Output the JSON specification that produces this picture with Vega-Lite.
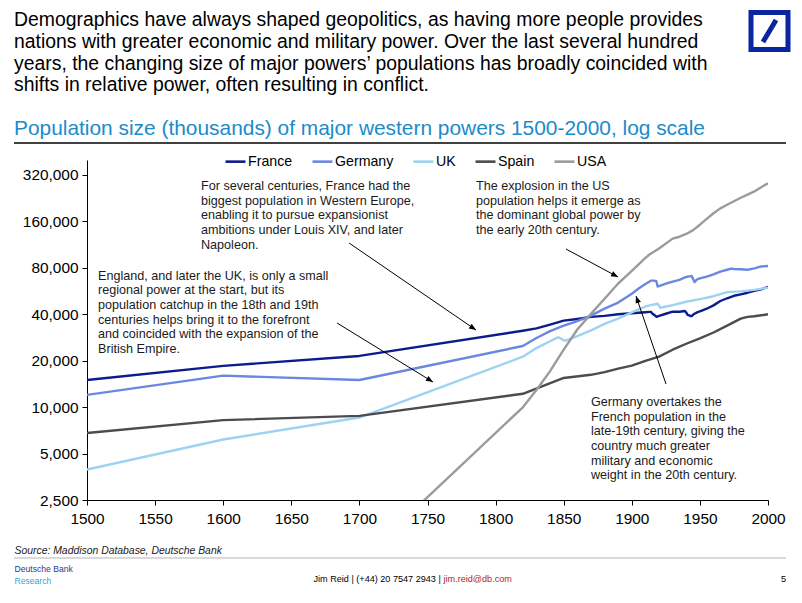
{
  "$schema": "https://vega.github.io/schema/vega-lite/v6.json",
  "width": 681,
  "height": 340,
  "autosize": {"type": "none"},
  "padding": {"left": 87, "top": 160, "right": 34, "bottom": 103},
  "background": "white",
  "title": {
    "text": [
      "Demographics have always shaped geopolitics, as having more people provides",
      "nations with greater economic and military power. Over the last several hundred",
      "years, the changing size of major powers’ populations has broadly coincided with",
      "shifts in relative power, often resulting in conflict."
    ],
    "subtitle": "Population size (thousands) of major western powers 1500-2000, log scale",
    "anchor": "start",
    "frame": "group",
    "dx": -73,
    "offset": -137.5,
    "font": "Liberation Sans",
    "fontSize": 19.4,
    "fontWeight": "normal",
    "color": "#000000",
    "lineHeight": 21.8,
    "subtitleFont": "Liberation Sans",
    "subtitleFontSize": 20.9,
    "subtitleColor": "#1a8bcb",
    "subtitlePadding": 22.4
  },
  "datasets": {
    "population": [
      {"country": "France", "year": 1500, "pop": 15000},
      {"country": "France", "year": 1600, "pop": 18500},
      {"country": "France", "year": 1700, "pop": 21471},
      {"country": "France", "year": 1820, "pop": 31250},
      {"country": "France", "year": 1830, "pop": 32375},
      {"country": "France", "year": 1840, "pop": 34230},
      {"country": "France", "year": 1850, "pop": 36350},
      {"country": "France", "year": 1860, "pop": 37300},
      {"country": "France", "year": 1870, "pop": 38440},
      {"country": "France", "year": 1880, "pop": 39045},
      {"country": "France", "year": 1890, "pop": 40014},
      {"country": "France", "year": 1900, "pop": 40598},
      {"country": "France", "year": 1910, "pop": 41224},
      {"country": "France", "year": 1913, "pop": 41463},
      {"country": "France", "year": 1914, "pop": 41476},
      {"country": "France", "year": 1915, "pop": 40481},
      {"country": "France", "year": 1916, "pop": 39884},
      {"country": "France", "year": 1917, "pop": 39288},
      {"country": "France", "year": 1918, "pop": 38542},
      {"country": "France", "year": 1919, "pop": 38700},
      {"country": "France", "year": 1920, "pop": 39000},
      {"country": "France", "year": 1925, "pop": 40310},
      {"country": "France", "year": 1930, "pop": 41610},
      {"country": "France", "year": 1935, "pop": 41550},
      {"country": "France", "year": 1939, "pop": 41960},
      {"country": "France", "year": 1940, "pop": 41000},
      {"country": "France", "year": 1941, "pop": 39600},
      {"country": "France", "year": 1942, "pop": 39400},
      {"country": "France", "year": 1943, "pop": 39000},
      {"country": "France", "year": 1944, "pop": 38900},
      {"country": "France", "year": 1945, "pop": 39700},
      {"country": "France", "year": 1946, "pop": 40290},
      {"country": "France", "year": 1948, "pop": 41110},
      {"country": "France", "year": 1950, "pop": 41829},
      {"country": "France", "year": 1955, "pop": 43428},
      {"country": "France", "year": 1960, "pop": 45670},
      {"country": "France", "year": 1965, "pop": 48758},
      {"country": "France", "year": 1970, "pop": 50787},
      {"country": "France", "year": 1975, "pop": 52699},
      {"country": "France", "year": 1980, "pop": 53880},
      {"country": "France", "year": 1985, "pop": 55170},
      {"country": "France", "year": 1990, "pop": 56735},
      {"country": "France", "year": 1995, "pop": 58020},
      {"country": "France", "year": 2000, "pop": 60300},
      {"country": "Germany", "year": 1500, "pop": 12000},
      {"country": "Germany", "year": 1600, "pop": 16000},
      {"country": "Germany", "year": 1700, "pop": 15000},
      {"country": "Germany", "year": 1820, "pop": 24905},
      {"country": "Germany", "year": 1830, "pop": 28045},
      {"country": "Germany", "year": 1840, "pop": 31126},
      {"country": "Germany", "year": 1850, "pop": 33746},
      {"country": "Germany", "year": 1860, "pop": 36049},
      {"country": "Germany", "year": 1870, "pop": 39231},
      {"country": "Germany", "year": 1880, "pop": 43500},
      {"country": "Germany", "year": 1890, "pop": 47607},
      {"country": "Germany", "year": 1900, "pop": 54388},
      {"country": "Germany", "year": 1905, "pop": 58700},
      {"country": "Germany", "year": 1910, "pop": 62884},
      {"country": "Germany", "year": 1913, "pop": 65058},
      {"country": "Germany", "year": 1914, "pop": 66096},
      {"country": "Germany", "year": 1916, "pop": 66076},
      {"country": "Germany", "year": 1918, "pop": 65500},
      {"country": "Germany", "year": 1919, "pop": 60547},
      {"country": "Germany", "year": 1920, "pop": 60894},
      {"country": "Germany", "year": 1925, "pop": 63166},
      {"country": "Germany", "year": 1930, "pop": 65084},
      {"country": "Germany", "year": 1935, "pop": 66871},
      {"country": "Germany", "year": 1939, "pop": 69286},
      {"country": "Germany", "year": 1941, "pop": 70244},
      {"country": "Germany", "year": 1943, "pop": 70411},
      {"country": "Germany", "year": 1944, "pop": 70800},
      {"country": "Germany", "year": 1946, "pop": 64678},
      {"country": "Germany", "year": 1947, "pop": 66094},
      {"country": "Germany", "year": 1948, "pop": 67295},
      {"country": "Germany", "year": 1950, "pop": 68375},
      {"country": "Germany", "year": 1955, "pop": 70196},
      {"country": "Germany", "year": 1960, "pop": 72481},
      {"country": "Germany", "year": 1965, "pop": 75639},
      {"country": "Germany", "year": 1970, "pop": 77709},
      {"country": "Germany", "year": 1973, "pop": 78950},
      {"country": "Germany", "year": 1975, "pop": 78667},
      {"country": "Germany", "year": 1980, "pop": 78298},
      {"country": "Germany", "year": 1985, "pop": 77684},
      {"country": "Germany", "year": 1990, "pop": 79380},
      {"country": "Germany", "year": 1995, "pop": 81661},
      {"country": "Germany", "year": 2000, "pop": 82188},
      {"country": "UK", "year": 1500, "pop": 3942},
      {"country": "UK", "year": 1600, "pop": 6170},
      {"country": "UK", "year": 1700, "pop": 8565},
      {"country": "UK", "year": 1820, "pop": 21239},
      {"country": "UK", "year": 1830, "pop": 24135},
      {"country": "UK", "year": 1840, "pop": 26745},
      {"country": "UK", "year": 1846, "pop": 28400},
      {"country": "UK", "year": 1851, "pop": 26900},
      {"country": "UK", "year": 1860, "pop": 28888},
      {"country": "UK", "year": 1870, "pop": 31400},
      {"country": "UK", "year": 1880, "pop": 34623},
      {"country": "UK", "year": 1890, "pop": 37485},
      {"country": "UK", "year": 1900, "pop": 41155},
      {"country": "UK", "year": 1910, "pop": 44916},
      {"country": "UK", "year": 1913, "pop": 45649},
      {"country": "UK", "year": 1919, "pop": 46821},
      {"country": "UK", "year": 1921, "pop": 44072},
      {"country": "UK", "year": 1930, "pop": 45866},
      {"country": "UK", "year": 1940, "pop": 48226},
      {"country": "UK", "year": 1950, "pop": 50127},
      {"country": "UK", "year": 1960, "pop": 52372},
      {"country": "UK", "year": 1970, "pop": 55632},
      {"country": "UK", "year": 1980, "pop": 56314},
      {"country": "UK", "year": 1990, "pop": 57561},
      {"country": "UK", "year": 2000, "pop": 59522},
      {"country": "Spain", "year": 1500, "pop": 6800},
      {"country": "Spain", "year": 1600, "pop": 8240},
      {"country": "Spain", "year": 1700, "pop": 8770},
      {"country": "Spain", "year": 1820, "pop": 12203},
      {"country": "Spain", "year": 1850, "pop": 15455},
      {"country": "Spain", "year": 1870, "pop": 16201},
      {"country": "Spain", "year": 1880, "pop": 16859},
      {"country": "Spain", "year": 1890, "pop": 17757},
      {"country": "Spain", "year": 1900, "pop": 18566},
      {"country": "Spain", "year": 1910, "pop": 19927},
      {"country": "Spain", "year": 1920, "pop": 21232},
      {"country": "Spain", "year": 1930, "pop": 23564},
      {"country": "Spain", "year": 1940, "pop": 25757},
      {"country": "Spain", "year": 1950, "pop": 27868},
      {"country": "Spain", "year": 1960, "pop": 30455},
      {"country": "Spain", "year": 1970, "pop": 33779},
      {"country": "Spain", "year": 1975, "pop": 35596},
      {"country": "Spain", "year": 1980, "pop": 37488},
      {"country": "Spain", "year": 1985, "pop": 38474},
      {"country": "Spain", "year": 1990, "pop": 38851},
      {"country": "Spain", "year": 1995, "pop": 39388},
      {"country": "Spain", "year": 2000, "pop": 40016},
      {"country": "USA", "year": 1500, "pop": 2000},
      {"country": "USA", "year": 1600, "pop": 1500},
      {"country": "USA", "year": 1700, "pop": 1000},
      {"country": "USA", "year": 1820, "pop": 9981},
      {"country": "USA", "year": 1830, "pop": 12901},
      {"country": "USA", "year": 1840, "pop": 17120},
      {"country": "USA", "year": 1850, "pop": 23580},
      {"country": "USA", "year": 1860, "pop": 31839},
      {"country": "USA", "year": 1870, "pop": 40241},
      {"country": "USA", "year": 1880, "pop": 50458},
      {"country": "USA", "year": 1890, "pop": 63302},
      {"country": "USA", "year": 1900, "pop": 76391},
      {"country": "USA", "year": 1910, "pop": 92767},
      {"country": "USA", "year": 1913, "pop": 97606},
      {"country": "USA", "year": 1920, "pop": 106881},
      {"country": "USA", "year": 1930, "pop": 123668},
      {"country": "USA", "year": 1935, "pop": 127250},
      {"country": "USA", "year": 1940, "pop": 132637},
      {"country": "USA", "year": 1945, "pop": 140474},
      {"country": "USA", "year": 1950, "pop": 152271},
      {"country": "USA", "year": 1955, "pop": 165931},
      {"country": "USA", "year": 1960, "pop": 180760},
      {"country": "USA", "year": 1965, "pop": 194347},
      {"country": "USA", "year": 1970, "pop": 205052},
      {"country": "USA", "year": 1975, "pop": 215973},
      {"country": "USA", "year": 1980, "pop": 227726},
      {"country": "USA", "year": 1985, "pop": 238466},
      {"country": "USA", "year": 1990, "pop": 250132},
      {"country": "USA", "year": 1995, "pop": 266557},
      {"country": "USA", "year": 2000, "pop": 282339}
    ],
    "arrows": [
      {"id": "france", "year": 1692.4, "pop": 115900, "year2": 1785.6, "pop2": 31620},
      {"id": "uk", "year": 1683.6, "pop": 35100, "year2": 1754.0, "pop2": 14550},
      {"id": "usa", "year": 1851.7, "pop": 105900, "year2": 1889.9, "pop2": 69760},
      {"id": "germany", "year": 1925.1, "pop": 14120, "year2": 1903.1, "pop2": 52530}
    ],
    "notes": [
      {"id": "france", "text": "For several centuries, France had the\nbiggest population in Western Europe,\nenabling it to pursue expansionist\nambitions under Louis XIV, and later\nNapoleon.", "year": 1583.7, "pop": 255700},
      {"id": "uk", "text": "England, and later the UK, is only a small\nregional power at the start, but its\npopulation catchup in the 18th and 19th\ncenturies helps bring it to the forefront\nand coincided with the expansion of the\nBritish Empire.", "year": 1508.1, "pop": 67200},
      {"id": "usa", "text": "The explosion in the US\npopulation helps it emerge as\nthe dominant global power by\nthe early 20th century.", "year": 1785.6, "pop": 255700},
      {"id": "germany", "text": "Germany overtakes the\nFrench population in the\nlate-19th century, giving the\ncountry much greater\nmilitary and economic\nweight in the 20th century.", "year": 1870.0, "pop": 10170}
    ]
  },
  "resolve": {"axis": {"x": "independent", "y": "independent"}},
  "layer": [
    {
      "data": {"name": "population"},
      "mark": {"type": "line", "clip": true, "strokeWidth": 2.4, "strokeJoin": "round"},
      "encoding": {
        "x": {
          "field": "year", "type": "quantitative",
          "scale": {"domain": [1500, 2000], "nice": false, "zero": false},
          "axis": {
            "orient": "bottom",
            "values": [1500, 1550, 1600, 1650, 1700, 1750, 1800, 1850, 1900, 1950, 2000],
            "format": "d", "labelFlush": false, "labelOverlap": false, "labelPadding": 6,
            "title": "Source: Maddison Database, Deutsche Bank",
            "titleX": -73, "titleY": 53, "titleAlign": "left", "titleAnchor": "start",
            "titleBaseline": "alphabetic", "titleFontSize": 10.4, "titleFontStyle": "italic",
            "titleColor": "#1a1a1a"
          }
        },
        "y": {
          "field": "pop", "type": "quantitative",
          "scale": {"type": "log", "domain": [2500, 400000], "nice": false},
          "axis": {
            "orient": "left",
            "values": [2500, 5000, 10000, 20000, 40000, 80000, 160000, 320000],
            "format": ",d", "labelOverlap": false, "labelPadding": 4,
            "title": "Deutsche Bank", "titleAngle": 0, "titleX": -73, "titleY": 411,
            "titleAlign": "left", "titleBaseline": "alphabetic", "titleFontSize": 8.6,
            "titleColor": "#233a9c"
          }
        },
        "color": {
          "field": "country", "type": "nominal",
          "scale": {
            "domain": ["France", "Germany", "UK", "Spain", "USA"],
            "range": ["#0c1c8c", "#6a88e0", "#9dd3f0", "#4b4b50", "#9b9b9b"]
          },
          "legend": {
            "orient": "none", "legendX": 137, "legendY": -10, "direction": "horizontal",
            "title": null, "symbolType": "stroke", "symbolStrokeWidth": 2.6, "symbolSize": 400,
            "labelFontSize": 14.2, "labelFont": "Liberation Sans", "labelColor": "#000000",
            "labelOffset": 1, "columnPadding": 14, "padding": 0
          }
        }
      }
    },
    {
      "data": {"name": "arrows"},
      "mark": {"type": "rule", "color": "#000000", "strokeWidth": 1},
      "encoding": {
        "x": {
          "field": "year", "type": "quantitative",
          "axis": {
            "orient": "top", "domain": false, "ticks": false, "labels": false,
            "title": "5", "titleX": 696, "titleY": 421.5, "titleAlign": "center",
            "titleBaseline": "alphabetic", "titleFontSize": 9.2, "titleColor": "#000000"
          }
        },
        "x2": {"field": "year2"},
        "y": {
          "field": "pop", "type": "quantitative",
          "axis": {
            "orient": "right", "domain": false, "ticks": false, "labels": false,
            "title": "Research", "titleAngle": 0, "titleX": -754, "titleY": 423.5,
            "titleAlign": "left", "titleBaseline": "alphabetic", "titleFontSize": 8.6,
            "titleColor": "#3a9fdc"
          }
        },
        "y2": {"field": "pop2"}
      }
    },
    {
      "data": {"name": "arrows"},
      "transform": [{"filter": "datum.id == 'france'"}],
      "mark": {"type": "point", "shape": "M0,0L0.4,1L-0.4,1Z", "size": 196, "angle": 124, "filled": true, "color": "#000000", "opacity": 1},
      "encoding": {
        "x": {
          "field": "year2", "type": "quantitative",
          "axis": {
            "orient": "top", "domain": false, "ticks": false, "labels": false,
            "title": "Jim Reid | (+44) 20 7547 2943 |", "titleX": 226, "titleY": 421.5,
            "titleAlign": "left", "titleBaseline": "alphabetic", "titleFontSize": 9.1,
            "titleColor": "#000000"
          }
        },
        "y": {
          "field": "pop2", "type": "quantitative",
          "axis": {
            "orient": "right", "domain": false, "ticks": false, "labels": false,
            "title": "jim.reid@db.com", "titleAngle": 0, "titleX": -325, "titleY": 421.5,
            "titleAlign": "left", "titleBaseline": "alphabetic", "titleFontSize": 9.1,
            "titleColor": "#b0262c"
          }
        }
      }
    },
    {
      "data": {"name": "arrows"},
      "transform": [{"filter": "datum.id == 'uk'"}],
      "mark": {"type": "point", "shape": "M0,0L0.4,1L-0.4,1Z", "size": 196, "angle": 122, "filled": true, "color": "#000000", "opacity": 1},
      "encoding": {
        "x": {"field": "year2", "type": "quantitative", "axis": null},
        "y": {"field": "pop2", "type": "quantitative", "axis": null}
      }
    },
    {
      "data": {"name": "arrows"},
      "transform": [{"filter": "datum.id == 'usa'"}],
      "mark": {"type": "point", "shape": "M0,0L0.4,1L-0.4,1Z", "size": 196, "angle": 118, "filled": true, "color": "#000000", "opacity": 1},
      "encoding": {
        "x": {"field": "year2", "type": "quantitative", "axis": null},
        "y": {"field": "pop2", "type": "quantitative", "axis": null}
      }
    },
    {
      "data": {"name": "arrows"},
      "transform": [{"filter": "datum.id == 'germany'"}],
      "mark": {"type": "point", "shape": "M0,0L0.4,1L-0.4,1Z", "size": 196, "angle": 341, "filled": true, "color": "#000000", "opacity": 1},
      "encoding": {
        "x": {"field": "year2", "type": "quantitative", "axis": null},
        "y": {"field": "pop2", "type": "quantitative", "axis": null}
      }
    },
    {
      "data": {"name": "notes"},
      "mark": {"type": "text", "align": "left", "baseline": "alphabetic", "font": "Liberation Sans", "fontSize": 12.6, "lineHeight": 14.7, "lineBreak": "\n", "color": "#1a1a1a"},
      "encoding": {
        "x": {"field": "year", "type": "quantitative", "axis": null},
        "y": {"field": "pop", "type": "quantitative", "axis": null},
        "text": {"field": "text", "type": "nominal"}
      }
    },
    {
      "data": {"values": [{}]},
      "mark": {"type": "rule", "color": "#000000", "strokeWidth": 1.5},
      "encoding": {
        "x": {"datum": 1446.4, "type": "quantitative", "axis": null},
        "x2": {"datum": 2013.2},
        "y": {"datum": 515600, "type": "quantitative", "axis": null}
      }
    },
    {
      "data": {"values": [{}]},
      "mark": {"type": "rule", "color": "#b4b4b4", "strokeWidth": 1},
      "encoding": {
        "x": {"datum": 1446.4, "type": "quantitative", "axis": null},
        "x2": {"datum": 2013.2},
        "y": {"datum": 1052, "type": "quantitative", "axis": null}
      }
    },
    {
      "data": {"values": [{}]},
      "mark": {"type": "point", "shape": "square", "size": 1369, "filled": false, "stroke": "#0b25a0", "strokeWidth": 5, "opacity": 1},
      "encoding": {
        "x": {"datum": 2001.1, "type": "quantitative", "axis": null},
        "y": {"datum": 2742000, "type": "quantitative", "axis": null}
      }
    },
    {
      "data": {"values": [{}]},
      "mark": {"type": "rule", "color": "#0b25a0", "strokeWidth": 5},
      "encoding": {
        "x": {"datum": 1996.3, "type": "quantitative", "axis": null},
        "x2": {"datum": 2005.9},
        "y": {"datum": 2328000, "type": "quantitative", "axis": null},
        "y2": {"datum": 3233000}
      }
    }
  ],
  "config": {
    "font": "Liberation Sans",
    "view": {"stroke": null},
    "axis": {
      "grid": false,
      "domainColor": "#000000",
      "domainWidth": 1,
      "tickColor": "#000000",
      "tickWidth": 1,
      "tickSize": 5,
      "labelColor": "#000000",
      "labelFont": "Liberation Sans",
      "labelFontSize": 15.4,
      "titleFont": "Liberation Sans",
      "titleFontWeight": "normal"
    }
  }
}
